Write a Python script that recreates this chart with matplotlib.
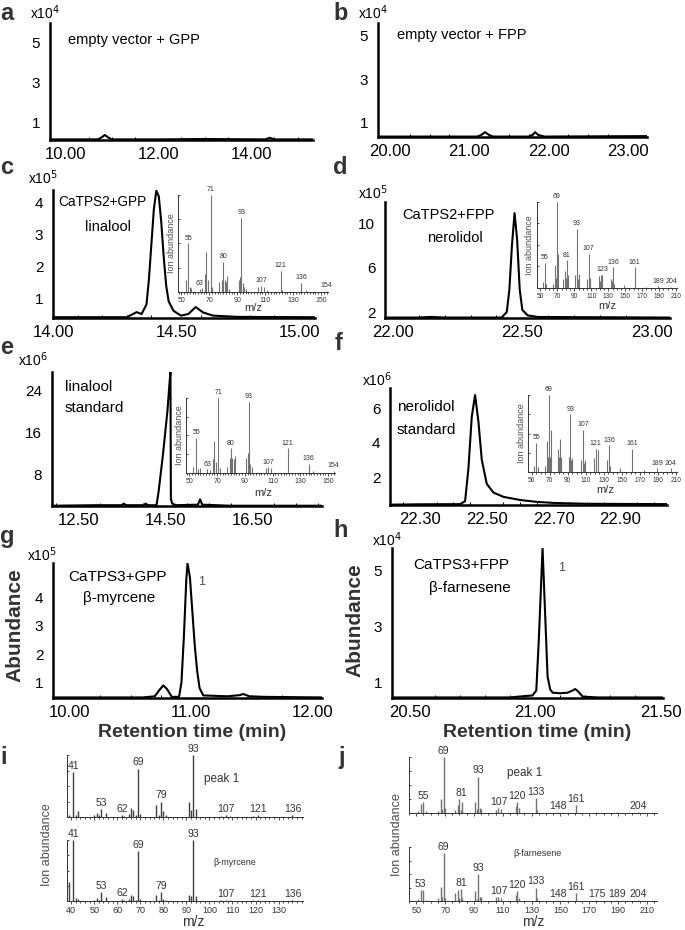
import matplotlib
matplotlib.use("Agg")
import matplotlib.pyplot as plt
from matplotlib.ticker import MultipleLocator, FormatStrFormatter

plt.rcParams["font.family"] = ["Liberation Sans", "DejaVu Sans"]

W, H = 685, 930

# ---- chromatograms: retention time (min) / abundance (in units of the multiplier)
a_t = [9.67, 10.70, 10.78, 10.85, 10.92, 11.00, 12.00, 13.00, 14.30, 14.40, 14.50, 15.33]
a_y = [0.18, 0.18, 0.28, 0.40, 0.28, 0.18, 0.18, 0.20, 0.18, 0.26, 0.18, 0.18]

b_t = [19.85, 21.10, 21.15, 21.20, 21.25, 21.30, 21.75, 21.80, 21.83, 21.87, 21.95, 23.24]
b_y = [0.38, 0.38, 0.45, 0.58, 0.45, 0.38, 0.38, 0.46, 0.58, 0.45, 0.38, 0.40]

c_t = [14.00, 14.30, 14.32, 14.34, 14.36, 14.38, 14.39, 14.40, 14.41, 14.42, 14.43, 14.44,
       14.45, 14.46, 14.47, 14.49, 14.52, 14.55, 14.58, 14.61, 14.65, 14.75, 15.06]
c_y = [0.40, 0.40, 0.48, 0.56, 0.50, 0.80, 1.60, 2.70, 3.80, 4.38, 4.20, 3.40,
       2.30, 1.40, 0.90, 0.60, 0.45, 0.50, 0.72, 0.55, 0.45, 0.41, 0.40]

d_t = [21.97, 22.10, 22.15, 22.20, 22.42, 22.44, 22.45, 22.46, 22.47, 22.48, 22.49,
       22.50, 22.52, 22.56, 23.07]
d_y = [1.50, 1.50, 1.56, 1.50, 1.50, 2.00, 4.00, 8.00, 10.90, 8.50, 4.00,
       2.20, 1.70, 1.55, 1.50]

e_t = [11.90, 12.90, 13.50, 13.55, 13.60, 14.00, 14.05, 14.10, 14.30, 14.35, 14.45,
       14.55, 14.60, 14.62, 14.63, 14.66, 14.75, 15.25, 15.30, 15.35, 16.00, 18.10]
e_y = [2.20, 2.30, 2.30, 2.60, 2.30, 2.30, 2.60, 2.30, 2.30, 5.00, 12.0,
       20.0, 25.5, 27.4, 3.50, 2.60, 2.30, 2.40, 3.40, 2.40, 2.20, 2.20]

f_t = [22.21, 22.30, 22.42, 22.435, 22.445, 22.455, 22.465, 22.475, 22.485, 22.50,
       22.52, 22.55, 22.60, 22.65, 22.70, 22.80, 23.04]
f_y = [0.40, 0.42, 0.43, 0.60, 2.50, 5.50, 6.75, 5.20, 3.00, 1.60,
       1.10, 0.85, 0.67, 0.56, 0.50, 0.45, 0.43]

g_t = [9.86, 10.60, 10.70, 10.74, 10.77, 10.80, 10.84, 10.90, 10.92, 10.94, 10.96, 10.97,
       10.99, 11.01, 11.03, 11.05, 11.07, 11.10, 11.30, 11.40, 11.43, 11.48, 11.60, 12.08]
g_y = [0.48, 0.48, 0.52, 0.75, 0.90, 0.78, 0.50, 0.50, 1.00, 2.60, 4.60, 5.19,
       4.70, 3.50, 2.30, 1.40, 0.80, 0.55, 0.52, 0.56, 0.60, 0.52, 0.50, 0.48]

h_t = [20.43, 20.90, 20.96, 20.99, 21.005, 21.015, 21.03, 21.04, 21.05, 21.06, 21.07,
       21.10, 21.13, 21.15, 21.16, 21.17, 21.19, 21.25, 21.51]
h_y = [0.45, 0.45, 0.50, 0.52, 0.70, 2.50, 5.79, 3.50, 1.20, 0.75, 0.62,
       0.60, 0.62, 0.70, 0.75, 0.68, 0.48, 0.45, 0.45]

# ---- mass spectra: m/z / relative intensity
c_mz = [53, 55, 56, 57, 63, 65, 67, 68, 69, 71, 72, 77, 79, 80, 81, 82, 83, 84, 91, 92, 93,
        94, 95, 96, 105, 107, 109, 111, 121, 122, 136, 139, 154]
c_in = [0.12, 0.50, 0.05, 0.04, 0.03, 0.04, 0.19, 0.41, 0.12, 1.00, 0.05, 0.10, 0.12, 0.31,
        0.12, 0.10, 0.17, 0.03, 0.12, 0.15, 0.76, 0.09, 0.05, 0.03, 0.05, 0.06, 0.05, 0.02,
        0.22, 0.02, 0.09, 0.02, 0.01]
c_lab = [55, 63, 71, 80, 93, 107, 121, 136, 154]

d_mz = [53, 55, 57, 65, 67, 68, 69, 70, 71, 77, 79, 80, 81, 82, 83, 91, 93, 94, 95, 105, 107,
        108, 109, 119, 120, 121, 123, 133, 134, 136, 137, 148, 161, 175, 189, 204]
d_in = [0.07, 0.29, 0.05, 0.05, 0.27, 0.12, 1.00, 0.10, 0.40, 0.10, 0.20, 0.12, 0.32, 0.15,
        0.08, 0.15, 0.69, 0.10, 0.16, 0.10, 0.40, 0.08, 0.12, 0.14, 0.08, 0.15, 0.15, 0.10,
        0.08, 0.24, 0.05, 0.03, 0.24, 0.01, 0.02, 0.01]
d_lab = [55, 69, 81, 93, 107, 123, 136, 161, 189, 204]

e_mz = [53, 55, 56, 58, 63, 65, 67, 68, 69, 71, 72, 77, 79, 80, 81, 82, 83, 91, 92, 93, 94,
        95, 105, 107, 109, 121, 136, 139, 154]
e_in = [0.08, 0.47, 0.05, 0.06, 0.05, 0.04, 0.19, 0.42, 0.15, 1.00, 0.06, 0.08, 0.20, 0.33,
        0.20, 0.18, 0.22, 0.20, 0.26, 0.95, 0.12, 0.08, 0.06, 0.08, 0.07, 0.33, 0.12, 0.03,
        0.03]
e_lab = [55, 63, 71, 80, 93, 107, 121, 136, 154]

f_mz = [53, 55, 57, 65, 67, 68, 69, 70, 71, 79, 80, 81, 82, 83, 91, 93, 94, 95, 105, 107, 108,
        109, 119, 121, 123, 133, 136, 137, 148, 161, 175, 189, 204]
f_in = [0.08, 0.38, 0.06, 0.08, 0.40, 0.20, 1.00, 0.20, 0.55, 0.30, 0.20, 0.43, 0.20, 0.15,
        0.20, 0.75, 0.15, 0.18, 0.15, 0.55, 0.12, 0.15, 0.18, 0.30, 0.28, 0.15, 0.35, 0.08,
        0.05, 0.30, 0.02, 0.05, 0.05]
f_lab = [55, 69, 93, 107, 121, 136, 161, 189, 204]

i_mz = [39, 41, 42, 43, 50, 51, 52, 53, 55, 62, 63, 65, 66, 67, 68, 69, 70, 77, 78, 79, 80,
        81, 91, 92, 93, 94, 105, 107, 109, 119, 121, 136]
i_top = [0.04, 0.73, 0.04, 0.09, 0.04, 0.07, 0.03, 0.13, 0.06, 0.03, 0.02, 0.05, 0.14, 0.11,
         0.03, 0.78, 0.05, 0.19, 0.03, 0.25, 0.09, 0.03, 0.25, 0.11, 1.00, 0.13, 0.02, 0.03,
         0.02, 0.01, 0.03, 0.03]
i_bot = [0.31, 1.00, 0.05, 0.04, 0.02, 0.05, 0.02, 0.14, 0.06, 0.03, 0.02, 0.04, 0.10, 0.08,
         0.02, 0.82, 0.04, 0.10, 0.02, 0.14, 0.04, 0.02, 0.10, 0.08, 1.00, 0.09, 0.01, 0.02,
         0.01, 0.01, 0.02, 0.02]
i_lab = [41, 53, 62, 69, 79, 93, 107, 121, 136]

j_mz = [51, 53, 55, 57, 65, 67, 68, 69, 70, 77, 79, 80, 81, 82, 91, 92, 93, 94, 95, 105, 107,
        109, 119, 120, 121, 133, 134, 148, 161, 175, 189, 204]
j_top = [0.03, 0.16, 0.19, 0.03, 0.04, 0.25, 0.08, 1.00, 0.09, 0.06, 0.15, 0.25, 0.06, 0.20,
         0.20, 0.08, 0.65, 0.09, 0.07, 0.06, 0.09, 0.07, 0.12, 0.20, 0.09, 0.26, 0.05, 0.02,
         0.14, 0.01, 0.02, 0.02]
j_bot = [0.03, 0.20, 0.20, 0.02, 0.05, 0.26, 0.08, 0.88, 0.06, 0.14, 0.20, 0.05, 0.22, 0.05,
         0.19, 0.04, 0.50, 0.08, 0.07, 0.08, 0.08, 0.05, 0.12, 0.19, 0.05, 0.25, 0.05, 0.02,
         0.15, 0.02, 0.01, 0.02]
j_lab_top = [55, 69, 81, 93, 107, 120, 133, 148, 161, 204]
j_lab_bot = [53, 69, 81, 93, 107, 120, 133, 148, 161, 175, 189, 204]


fig = plt.figure(figsize=(W / 100, H / 100), dpi=100)


def box(l, t, r, b):
    return [l / W, 1 - b / H, (r - l) / W, (b - t) / H]


def ftext(x, y, s, **kw):
    kw.setdefault("va", "center")
    fig.text(x / W, 1 - y / H, s, **kw)


def chrom(rect, t, y, xlim, ylim, xticks, yticks, xminor):
    ax = fig.add_axes(box(*rect))
    ax.patch.set_alpha(0)
    ax.plot(t, y, color="k", lw=1.5, solid_joinstyle="round")
    ax.set_xlim(xlim)
    ax.set_ylim(ylim)
    for s in ("top", "right"):
        ax.spines[s].set_visible(False)
    for s in ("left", "bottom"):
        ax.spines[s].set_linewidth(1.8)
    ax.set_xticks(xticks)
    ax.xaxis.set_major_formatter(FormatStrFormatter("%.2f"))
    ax.xaxis.set_minor_locator(MultipleLocator(xminor))
    ax.set_yticks(yticks)
    ax.tick_params(axis="x", which="major", length=0, pad=5, labelsize=12)
    ax.tick_params(axis="x", which="minor", length=2, width=0.7, direction="in")
    ax.tick_params(axis="y", length=0, pad=7, labelsize=11)
    return ax


def spectrum(rect, mz, inten, labels, xlim, xticks, lab_fs, tick_fs, color,
             showx=True, lw=0.8, minor=2):
    ax = fig.add_axes(box(*rect))
    ax.patch.set_alpha(0)
    ax.vlines(mz, 0, inten, color=color, lw=lw)
    ax.set_xlim(xlim)
    ax.set_ylim(0, 1.0)
    for s in ("top", "right"):
        ax.spines[s].set_visible(False)
    for s in ("left", "bottom"):
        ax.spines[s].set_linewidth(0.7)
        ax.spines[s].set_color("0.2")
    for m in labels:
        top = max(v for x, v in zip(mz, inten) if abs(x - m) <= 1)
        ax.text(m, top + 0.02, str(m), ha="center", va="bottom", fontsize=lab_fs,
                color="0.2", clip_on=False)
    ax.set_xticks(xticks)
    ax.xaxis.set_minor_locator(MultipleLocator(minor))
    ax.yaxis.set_major_locator(MultipleLocator(0.25))
    ax.set_yticklabels([])
    ax.tick_params(axis="x", which="major", length=2.5, width=0.6, pad=1.2,
                   labelsize=tick_fs, colors="0.2")
    ax.tick_params(axis="x", which="minor", length=1.5, width=0.5)
    ax.tick_params(axis="y", length=1.5, width=0.5, direction="in")
    if not showx:
        ax.set_xticklabels([])
    return ax


# ---- chromatogram panels
chrom((50, 23, 313, 140), a_t, a_y, (9.67, 15.33), (0.15, 6.0), [10, 12, 14], [1, 3, 5], 0.5)
chrom((378, 23, 647, 137), b_t, b_y, (19.85, 23.24), (0.36, 5.55), [20, 21, 22, 23], [1, 3, 5], 0.25)
chrom((53, 190, 315, 318), c_t, c_y, (14.0, 15.065), (0.375, 4.4), [14, 14.5, 15], [1, 2, 3, 4], 0.1)
chrom((385, 202, 670, 318), d_t, d_y, (21.97, 23.07), (1.46, 11.9), [22, 22.5, 23], [2, 6, 10], 0.1)
chrom((52, 372, 322, 506), e_t, e_y, (11.9, 18.1), (2.15, 27.4), [12.5, 14.5, 16.5], [8, 16, 24], 0.5)
chrom((390, 388, 667, 505), f_t, f_y, (22.21, 23.04), (0.38, 7.16), [22.3, 22.5, 22.7, 22.9], [2, 4, 6], 0.05)
ax_g = chrom((53, 563, 322, 698), g_t, g_y, (9.86, 12.08), (0.46, 5.2), [10, 11, 12], [1, 2, 3, 4], 0.25)
ax_h = chrom((392, 548, 663, 698), h_t, h_y, (20.43, 21.51), (0.43, 5.8), [20.5, 21, 21.5], [1, 3, 5], 0.1)
ax_g.text(11.06, 4.53, "1", fontsize=9, color="0.3", va="center")
ax_h.text(21.09, 5.07, "1", fontsize=9, color="0.3", va="center")

# ---- inset spectra
spectrum((178, 195, 328, 292), c_mz, c_in, c_lab, (47.6, 155), range(50, 151, 20), 5, 5, "0.45", minor=2)
spectrum((537, 202, 677, 288), d_mz, d_in, d_lab, (46, 211), range(50, 211, 20), 5, 4.8, "0.45", minor=5)
spectrum((186, 398, 335, 473), e_mz, e_in, e_lab, (47.6, 155), range(50, 151, 20), 5, 5, "0.45", minor=2)
spectrum((528, 395, 677, 472), f_mz, f_in, f_lab, (46, 211), range(50, 211, 20), 5, 4.8, "0.45", minor=5)

# ---- bottom spectra
spectrum((67, 755, 303, 817), i_mz, i_top, i_lab, (38.2, 140.6), range(40, 131, 10), 7.5, 6.5, "0.25", showx=False, lw=1.0, minor=2)
spectrum((67, 840, 303, 901), i_mz, i_bot, i_lab, (38.2, 140.6), range(40, 131, 10), 7.5, 6.5, "0.25", lw=1.0, minor=2)
spectrum((409, 757, 657, 813), j_mz, j_top, j_lab_top, (45, 217), range(50, 211, 20), 7.5, 6.5, "0.45", showx=False, lw=1.0, minor=5)
spectrum((409, 847, 657, 901), j_mz, j_bot, j_lab_bot, (45, 217), range(50, 211, 20), 7.5, 6.5, "0.45", lw=1.0, minor=5)

# ---- panel letters
for x, y, s in [(0, 13, "a"), (333, 13, "b"), (0, 167, "c"), (333, 167, "d"),
                (0, 347, "e"), (335, 343, "f"), (0, 537, "g"), (333, 530, "h"),
                (0, 757, "i"), (338, 757, "j")]:
    ftext(x, y, s, fontsize=17, fontweight="bold", color="0.2")

# ---- multipliers
for x, y, s in [(30, 13, "x10$^4$"), (358, 13, "x10$^4$"), (28, 178, "x10$^5$"),
                (358, 193, "x10$^5$"), (18, 360, "x10$^6$"), (362, 380, "x10$^6$"),
                (27, 555, "x10$^5$"), (372, 540, "x10$^4$")]:
    ftext(x, y, s, fontsize=10)

# ---- sample labels
ftext(68, 40, "empty vector + GPP", fontsize=10.5)
ftext(397, 35, "empty vector + FPP", fontsize=10.5)
ftext(58, 202, "CaTPS2+GPP", fontsize=9.8)
ftext(108, 227, "linalool", fontsize=10.5, ha="center")
ftext(402, 215, "CaTPS2+FPP", fontsize=10.5)
ftext(455, 238, "nerolidol", fontsize=10.5, ha="center")
ftext(65, 387, "linalool", fontsize=11)
ftext(65, 408, "standard", fontsize=11)
ftext(397, 407, "nerolidol", fontsize=11)
ftext(397, 430, "standard", fontsize=11)
ftext(68, 577, "CaTPS3+GPP", fontsize=11)
ftext(119, 598, "β-myrcene", fontsize=11, ha="center")
ftext(413, 565, "CaTPS3+FPP", fontsize=11)
ftext(470, 588, "β-farnesene", fontsize=11, ha="center")

# ---- axis titles
for x, y in [(172, 243), (530, 245), (180, 435), (522, 433)]:
    ftext(x, y, "Ion abundance", fontsize=6.5, rotation=90, ha="center", color="0.3")
for x, y in [(253, 308), (607, 306), (263, 493), (605, 490)]:
    ftext(x, y, "m/z", fontsize=8, ha="center", color="0.2")

ftext(15, 625, "Abundance", fontsize=15, fontweight="bold", rotation=90, ha="center", color="0.2")
ftext(355, 620, "Abundance", fontsize=15, fontweight="bold", rotation=90, ha="center", color="0.2")
ftext(192, 732, "Retention time (min)", fontsize=14, fontweight="bold", ha="center", color="0.2")
ftext(537, 732, "Retention time (min)", fontsize=14, fontweight="bold", ha="center", color="0.2")

ftext(47, 845, "Ion abundance", fontsize=9, rotation=90, ha="center", color="0.3")
ftext(397, 835, "Ion abundance", fontsize=9, rotation=90, ha="center", color="0.3")
ftext(193, 922, "m/z", fontsize=10, ha="center", color="0.2")
ftext(533, 922, "m/z", fontsize=10, ha="center", color="0.2")

ftext(222, 779, "peak 1", fontsize=8.5, ha="center", color="0.2")
ftext(235, 862, "β-myrcene", fontsize=6.5, ha="center", color="0.2")
ftext(525, 773, "peak 1", fontsize=8.5, ha="center", color="0.2")
ftext(537, 853, "β-farnesene", fontsize=6.5, ha="center", color="0.2")

fig.savefig("out.png", dpi=100)
